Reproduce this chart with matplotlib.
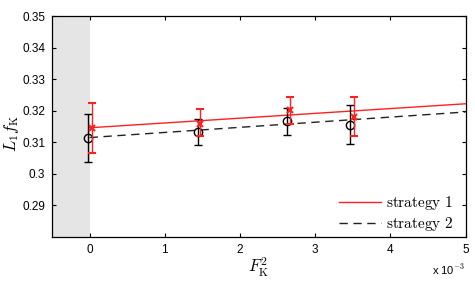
import matplotlib
matplotlib.use("Agg")
import matplotlib.pyplot as plt
import numpy as np

plt.rcParams['mathtext.fontset'] = 'cm'
plt.rcParams['font.family'] = ['Liberation Sans', 'DejaVu Sans']

# data (x in units of 1e-3)
x_s1 = [0.036, 1.465, 2.67, 3.515]
y_s1 = [0.3145, 0.3159, 0.3202, 0.3180]
lo_s1 = [0.3067, 0.3120, 0.3158, 0.3119]
hi_s1 = [0.3223, 0.3205, 0.3244, 0.3243]

x_s2 = [-0.022, 1.438, 2.625, 3.466]
y_s2 = [0.3114, 0.3133, 0.3168, 0.3156]
lo_s2 = [0.3037, 0.3090, 0.3124, 0.3094]
hi_s2 = [0.3191, 0.3173, 0.3209, 0.3217]

fit_x = [0.0, 5.0]
fit_s1 = [0.3146, 0.3222]
fit_s2 = [0.3115, 0.3196]

xticks = [0, 1, 2, 3, 4, 5]
yticks = [0.29, 0.30, 0.31, 0.32, 0.33, 0.34, 0.35]
yticklabels = ['0.29', '0.3', '0.31', '0.32', '0.33', '0.34', '0.35']

fig = plt.figure(figsize=(4.75, 2.81), dpi=100)
ax = fig.add_axes([0.1095, 0.1566, 0.8705, 0.7864])

ax.axvspan(-0.5, 0, color='#e5e5e5', lw=0, zorder=0)

red = '#ff2020'
ax.plot(fit_x, fit_s1, color=red, lw=1.0, label=r'$\mathrm{strategy\ 1}$', zorder=3)
ax.plot(fit_x, fit_s2, color='#222222', lw=1.0, ls=(0, (6, 4)), label=r'$\mathrm{strategy\ 2}$', zorder=3)

y1 = np.array(y_s1); y2 = np.array(y_s2)
ax.errorbar(x_s2, y2, yerr=[y2 - np.array(lo_s2), np.array(hi_s2) - y2], fmt='o',
            mfc='none', mec='black', ms=6, mew=1.0, ecolor='black', elinewidth=1.0,
            capsize=3, capthick=1.0, zorder=4)
ax.errorbar(x_s1, y1, yerr=[y1 - np.array(lo_s1), np.array(hi_s1) - y1], fmt='x',
            color=red, ms=4, mew=1.5, ecolor=red, elinewidth=1.0,
            capsize=3, capthick=1.0, zorder=5)

ax.set_xlim(-0.5, 5)
ax.set_ylim(0.28, 0.35)
ax.set_xticks(xticks)
ax.set_xticklabels([str(t) for t in xticks])
ax.set_yticks(yticks)
ax.set_yticklabels(yticklabels)
ax.tick_params(direction='in', length=3, width=0.8, top=True, right=True, labelsize=8.5, pad=5)
for s in ax.spines.values():
    s.set_linewidth(0.9)

ax.set_ylabel(r'$L_1 f_{\mathrm{K}}$', fontsize=12)
ax.yaxis.set_label_coords(-0.075, 0.47)
ax.set_xlabel(r'$F_{\mathrm{K}}^2$', fontsize=12, labelpad=0)
ax.text(1.0, -0.115, r'x 10$^{-3}$', transform=ax.transAxes, ha='right', va='top', fontsize=8)

leg = ax.legend(loc='lower right', frameon=False, fontsize=11, handlelength=2.8,
                handletextpad=0.3, labelspacing=0.2, borderaxespad=0.0,
                bbox_to_anchor=(0.985, -0.01))

fig.savefig('out.png', dpi=100)
